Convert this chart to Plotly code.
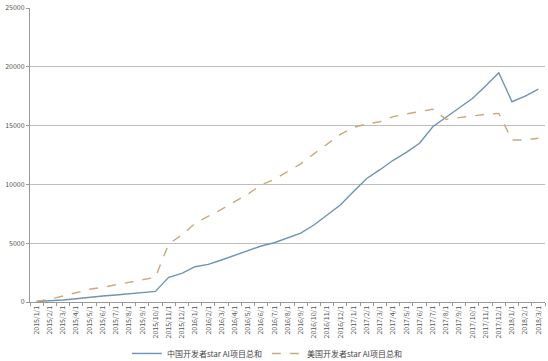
import plotly.graph_objects as go

months = []
for y in (2015, 2016, 2017, 2018):
    for m in range(1, 13):
        if y == 2018 and m > 3:
            break
        months.append(f"{y}/{m}/1")

china = [40, 80, 170, 280, 420, 510, 600, 690, 820, 900,
         2100, 2440, 3000, 3200, 3570, 3970, 4420, 4760, 5040, 5450,
         5850, 6550, 7400, 8250, 9400, 10500, 11250, 12050, 12720, 13500,
         14900, 15700, 16450, 17300, 18370, 19500, 17030, 17500, 18100]
usa = [50, 230, 510, 790, 1080, 1250, 1470, 1670, 1870, 2100,
       4930, 5700, 6690, 7260, 7880, 8530, 9180, 9950, 10430, 11080,
       11750, 12600, 13450, 14250, 14850, 15140, 15330, 15760, 15990, 16180,
       16390, 15530, 15700, 15820, 15960, 16040, 13780, 13780, 13920]

name_cn = "中国开发者star AI项目总和"
name_us = "美国开发者star AI项目总和"

fig = go.Figure()
fig.add_trace(go.Scatter(x=months, y=china, mode="lines", name=name_cn,
                         line=dict(color="#6f93b5", width=1.4)))
fig.add_trace(go.Scatter(x=months, y=usa, mode="lines", name=name_us,
                         line=dict(color="#c9aa7c", width=1.4, dash="dash")))

fig.update_layout(
    width=548, height=361,
    margin=dict(l=30, r=3, t=8, b=59, autoexpand=False),
    paper_bgcolor="white", plot_bgcolor="white",
    font=dict(family="Noto Sans CJK SC, sans-serif", size=8, color="#555555"),
    showlegend=True,
    legend=dict(orientation="h", x=0.46, xanchor="center", y=-0.175, yanchor="middle",
                font=dict(size=8, color="#444444"), itemwidth=30,
                bgcolor="rgba(0,0,0,0)"),
    xaxis=dict(type="category", range=[-0.5, len(months) - 0.5],
               tickmode="array", tickvals=months, ticktext=months,
               tickangle=-90, tickfont=dict(size=7, color="#555555"),
               showgrid=False, showline=True, linecolor="#999999", linewidth=1,
               ticks="outside", ticklen=3, tickcolor="#999999", tickson="boundaries",
               zeroline=False, automargin=False),
    yaxis=dict(range=[0, 25000], tickmode="array",
               tickvals=[0, 5000, 10000, 15000, 20000, 25000],
               ticktext=["0", "5000", "10000", "15000", "20000", "25000"],
               showgrid=True, gridcolor="#bdbdbd",
               gridwidth=1, showline=True, linecolor="#999999", zeroline=False,
               tickfont=dict(size=7, color="#555555"), ticks="outside", ticklen=3,
               tickcolor="#999999", automargin=False),
)

fig.write_html("out.html", config={"displayModeBar": False},
               post_script="document.body.style.margin='0';document.body.style.padding='0';")
